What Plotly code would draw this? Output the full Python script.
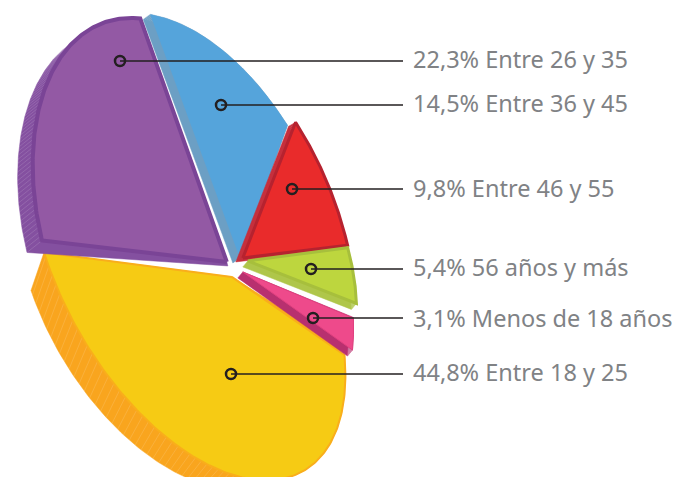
import numpy as np
import plotly.graph_objects as go

# ---- data (clockwise, starting at the top of the blue slice)
CATEGORIES = ["Entre 36 y 45", "Entre 46 y 55", "56 años y más", "Menos de 18 años", "Entre 18 y 25", "Entre 26 y 35"]
SHARES = [14.5, 9.8, 5.4, 3.1, 44.8, 22.3]
LABEL_ORDER = [5, 0, 1, 2, 3, 4]

# ---- style
FACE = ["#55A4DB", "#E92B2B", "#BDD63E", "#EE4A8B", "#F6CB14", "#9359A4"]
RIM = ["#55A4DB", "#B6222F", "#A7BF3C", "#E0407F", "#F9AE1B", "#7A4496"]
RIM_W = [0, 3, 3, 1, 2, 4]
SIDE = ["#6C9FC4", "#C62F3C", "#AFC64A", "#B8306F", "#F9A51E", "#8450A0"]
TEXT = "#808285"
INK = "#231F20"

# ---- view: projective tilt of the pie, and per-slice pulls in view units
VIEW = np.array([[174.7425, -100.421, 223.8337], [18.2571, -245.107, 272.9305], [0.1357, -0.1136, 1.0]])
PULL_APEX = [(16, -15), (19, -15), (24, -12), (19, -1), (8, 4), (3, -11)]
PULL_START = [(11, -17), (6, -10), (-1, -1), (-8, 6), (-18, 10), (1, -12)]
PULL_END = [(-2, -7), (-1, -3), (-5, -8), (-10, 5), (3, 0), (1, -13)]
PULL_BULGE = [(0, 0), (0, 0), (0, 0), (0, 0), (12, 5), (7, 0)]
DEPTH_START = [(-7, 5), (-7, 4), (-5, 6), (-5, 6), (-14, -16), (-15, 12)]
DEPTH_END = [(-7, 5), (-7, 4), (-5, 6), (-5, 6), (-13, 38), (-15, 12)]
DEPTH_APEX = [(-7, 5), (-7, 4), (-5, 6), (-5, 6), (-13, 30), (1, 4)]

# ---- leader anchors and label placement
LEAD_X = [120, 221, 292, 311, 313, 231]
LEAD_Y = [61, 105, 189, 269, 318, 374]
LEAD_END = 403
LABEL_X = 411
LABEL_Y = [59, 103, 188, 267, 318, 372]


def project(x, y):
    p = VIEW @ np.vstack([x, y, np.ones_like(x)])
    return p[0] / p[2], p[1] / p[2]


def hull(px, py):
    pts = sorted(set(zip(np.round(px, 2).tolist(), np.round(py, 2).tolist())))

    def half(seq):
        out = []
        for q in seq:
            while len(out) > 1 and ((out[-1][0] - out[-2][0]) * (q[1] - out[-2][1])
                                    - (out[-1][1] - out[-2][1]) * (q[0] - out[-2][0])) <= 0:
                out.pop()
            out.append(q)
        return out[:-1]

    h = half(pts) + half(pts[::-1])
    h.append(h[0])
    return [q[0] for q in h], [q[1] for q in h]


edges = np.cumsum([0] + SHARES) / sum(SHARES) * 2 * np.pi
fig = go.Figure()

for i in [4, 5, 0, 1, 2, 3]:
    t = np.linspace(edges[i], edges[i + 1], 160)
    ax, ay = project(np.sin(t), np.cos(t))
    f = np.linspace(0, 1, t.size)
    b = np.sin(np.pi * f)
    ax = ax + PULL_START[i][0] * (1 - f) + PULL_END[i][0] * f + PULL_BULGE[i][0] * b
    ay = ay + PULL_START[i][1] * (1 - f) + PULL_END[i][1] * f + PULL_BULGE[i][1] * b
    cx, cy = project(np.array([0.0]), np.array([0.0]))
    cx, cy = cx[0] + PULL_APEX[i][0], cy[0] + PULL_APEX[i][1]
    dx = DEPTH_START[i][0] * (1 - f) + DEPTH_END[i][0] * f
    dy = DEPTH_START[i][1] * (1 - f) + DEPTH_END[i][1] * f
    # side wall
    sx, sy = hull(np.r_[ax, ax + dx, cx, cx + DEPTH_APEX[i][0]], np.r_[ay, ay + dy, cy, cy + DEPTH_APEX[i][1]])
    fig.add_trace(go.Scatter(x=sx, y=sy, mode="lines", fill="toself", fillcolor=SIDE[i],
                             line=dict(color=SIDE[i], width=0.5), hoverinfo="skip", showlegend=False))
    # hatch on the wall
    hx, hy = [], []
    for k in range(0, t.size, 2):
        hx += [ax[k], ax[k] + dx[k], None]
        hy += [ay[k], ay[k] + dy[k], None]
    fig.add_trace(go.Scatter(x=hx, y=hy, mode="lines", line=dict(color="rgba(255,255,255,0.22)", width=0.6),
                             hoverinfo="skip", showlegend=False))
    # top face
    fx = np.r_[cx, ax, cx]
    fy = np.r_[cy, ay, cy]
    fig.add_trace(go.Scatter(x=fx, y=fy, mode="lines", fill="toself", fillcolor=FACE[i], name=CATEGORIES[i],
                             line=dict(color=RIM[i], width=RIM_W[i]), hoverinfo="name", showlegend=False))

annotations = []
for row, i in enumerate(LABEL_ORDER):
    fig.add_trace(go.Scatter(x=[LEAD_X[row], LEAD_END], y=[LEAD_Y[row], LEAD_Y[row]], mode="lines",
                             line=dict(color=INK, width=1.5), hoverinfo="skip", showlegend=False))
    fig.add_trace(go.Scatter(x=[LEAD_X[row]], y=[LEAD_Y[row]], mode="markers",
                             marker=dict(size=10, color="rgba(0,0,0,0)", line=dict(color=INK, width=2.5)),
                             hoverinfo="skip", showlegend=False))
    annotations.append(dict(x=LABEL_X, y=LABEL_Y[row], xref="x", yref="y", xanchor="left", yanchor="middle",
                            showarrow=False, text=f"{SHARES[i]:.1f}".replace(".", ",") + "% " + CATEGORIES[i],
                            font=dict(family="Noto Sans", size=23.5, color=TEXT)))

fig.update_layout(width=677, height=477, margin=dict(l=0, r=0, t=0, b=0), paper_bgcolor="white",
                  plot_bgcolor="white", showlegend=False, annotations=annotations,
                  xaxis=dict(range=[0, 677], visible=False, fixedrange=True),
                  yaxis=dict(range=[477, 0], visible=False, fixedrange=True))
fig.write_html("out.html", post_script="document.body.style.margin='0';document.documentElement.style.overflow='hidden';",
               config={"displayModeBar": False})
